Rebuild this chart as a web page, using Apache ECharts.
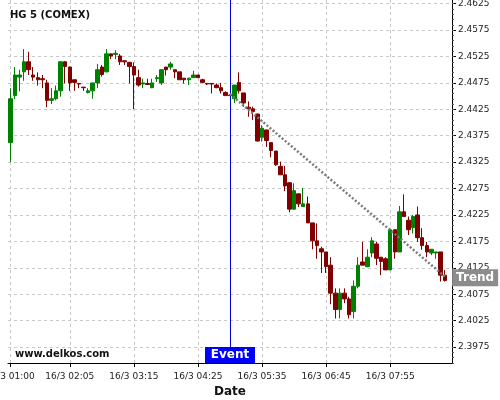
<!DOCTYPE html>
<html>
<head>
<meta charset="utf-8">
<script src="https://cdn.jsdelivr.net/npm/echarts@6/dist/echarts.min.js"></script>
<style>html,body{margin:0;padding:0;background:#fff}#c{width:500px;height:400px}</style>
</head>
<body>
<div id="c"></div>
<script>
const categories = [
'16/3 01:00','16/3 01:05','16/3 01:10','16/3 01:15','16/3 01:20','16/3 01:25','16/3 01:30','16/3 01:35','16/3 01:40','16/3 01:45','16/3 01:50','16/3 01:55',
'16/3 02:00','16/3 02:05','16/3 02:10','16/3 02:15','16/3 02:20','16/3 02:25','16/3 02:30','16/3 02:35','16/3 02:40','16/3 02:45','16/3 02:50','16/3 02:55',
'16/3 03:00','16/3 03:05','16/3 03:10','16/3 03:15','16/3 03:20','16/3 03:25','16/3 03:30','16/3 03:35','16/3 03:40','16/3 03:45','16/3 03:50','16/3 03:55',
'16/3 04:00','16/3 04:05','16/3 04:10','16/3 04:15','16/3 04:20','16/3 04:25','16/3 04:30','16/3 04:35','16/3 04:40','16/3 04:45','16/3 04:50','16/3 04:55',
'16/3 05:00','16/3 05:05','16/3 05:10','16/3 05:15','16/3 05:20','16/3 05:25','16/3 05:30','16/3 05:35','16/3 05:40','16/3 05:45','16/3 05:50','16/3 05:55',
'16/3 06:00','16/3 06:05','16/3 06:10','16/3 06:15','16/3 06:20','16/3 06:25','16/3 06:30','16/3 06:35','16/3 06:40','16/3 06:45','16/3 06:50','16/3 06:55',
'16/3 07:00','16/3 07:05','16/3 07:10','16/3 07:15','16/3 07:20','16/3 07:25','16/3 07:30','16/3 07:35','16/3 07:40','16/3 07:45','16/3 07:50','16/3 07:55',
'16/3 08:00','16/3 08:05','16/3 08:10','16/3 08:15','16/3 08:20','16/3 08:25','16/3 08:30','16/3 08:35','16/3 08:40','16/3 08:45','16/3 08:50','16/3 08:55',
'16/3 09:00'];

const opens = [2.4362,2.4451,2.4486,2.4496,2.4515,2.4490,2.4485,2.4483,2.4475,2.4442,2.4445,2.4460,2.4515,2.4505,2.4481,2.4474,2.4467,2.4457,2.4460,2.4475,
2.4505,2.4496,2.4530,2.4529,2.4526,2.4517,2.4514,2.4506,2.4485,2.4473,2.4474,2.4466,2.4483,2.4475,2.4505,2.4505,2.4500,2.4496,2.4484,2.4481,
2.4485,2.4490,2.4481,2.4474,2.4474,2.4471,2.4466,2.4457,2.4452,2.4445,2.4476,2.4456,2.4429,2.4426,2.4416,2.4372,2.4386,2.4362,2.4346,2.4317,
2.4301,2.4286,2.4236,2.4265,2.4241,2.4246,2.4210,2.4176,2.4161,2.4155,2.4130,2.4077,2.4046,2.4077,2.4066,2.4042,2.4090,2.4136,2.4127,2.4153,
2.4170,2.4145,2.4142,2.4121,2.4197,2.4155,2.4231,2.4215,2.4201,2.4225,2.4182,2.4167,2.4153,2.4153,2.4155,2.4111];
const closes = [2.4445,2.4490,2.4490,2.4515,2.4500,2.4486,2.4481,2.4481,2.4442,2.4445,2.4460,2.4515,2.4506,2.4475,2.4476,2.4473,2.4466,2.4460,2.4475,2.4500,
2.4491,2.4530,2.4526,2.4531,2.4515,2.4515,2.4506,2.4490,2.4471,2.4475,2.4472,2.4475,2.4485,2.4500,2.4500,2.4511,2.4496,2.4481,2.4481,2.4484,
2.4490,2.4485,2.4476,2.4473,2.4473,2.4466,2.4460,2.4451,2.4451,2.4471,2.4460,2.4437,2.4426,2.4421,2.4365,2.4389,2.4366,2.4347,2.4320,2.4301,
2.4280,2.4236,2.4271,2.4246,2.4246,2.4210,2.4176,2.4167,2.4155,2.4127,2.4077,2.4046,2.4077,2.4066,2.4036,2.4090,2.4130,2.4130,2.4145,2.4176,
2.4143,2.4137,2.4121,2.4197,2.4155,2.4231,2.4222,2.4197,2.4222,2.4182,2.4167,2.4155,2.4160,2.4155,2.4111,2.4101];
const lows = [2.4325,2.4444,2.4459,2.4479,2.4490,2.4479,2.4470,2.4465,2.4429,2.4435,2.4442,2.4449,2.4474,2.4460,2.4460,2.4465,2.4460,2.4455,2.4445,2.4465,
2.4487,2.4495,2.4520,2.4520,2.4509,2.4509,2.4474,2.4425,2.4468,2.4465,2.4471,2.4465,2.4477,2.4471,2.4489,2.4500,2.4484,2.4481,2.4474,2.4471,
2.4485,2.4485,2.4476,2.4471,2.4455,2.4465,2.4455,2.4451,2.4450,2.4437,2.4455,2.4430,2.4411,2.4405,2.4364,2.4364,2.4354,2.4334,2.4318,2.4301,
2.4270,2.4230,2.4235,2.4240,2.4241,2.4210,2.4160,2.4142,2.4115,2.4115,2.4056,2.4029,2.4029,2.4058,2.4029,2.4029,2.4086,2.4130,2.4126,2.4145,
2.4130,2.4111,2.4121,2.4121,2.4142,2.4155,2.4222,2.4187,2.4190,2.4174,2.4159,2.4145,2.4149,2.4142,2.4099,2.4099];
const highs = [2.4465,2.4505,2.4500,2.4539,2.4534,2.4505,2.4495,2.4490,2.4481,2.4465,2.4470,2.4516,2.4516,2.4506,2.4481,2.4474,2.4467,2.4465,2.4475,2.4511,
2.4509,2.4539,2.4530,2.4537,2.4530,2.4517,2.4514,2.4514,2.4500,2.4483,2.4483,2.4483,2.4490,2.4500,2.4505,2.4515,2.4500,2.4496,2.4484,2.4484,
2.4498,2.4490,2.4483,2.4474,2.4474,2.4474,2.4475,2.4459,2.4453,2.4471,2.4495,2.4456,2.4440,2.4430,2.4417,2.4395,2.4386,2.4362,2.4346,2.4326,
2.4318,2.4286,2.4285,2.4265,2.4276,2.4260,2.4210,2.4209,2.4165,2.4155,2.4145,2.4086,2.4086,2.4086,2.4070,2.4101,2.4145,2.4174,2.4160,2.4183,
2.4174,2.4145,2.4145,2.4200,2.4197,2.4242,2.4264,2.4222,2.4225,2.4241,2.4200,2.4174,2.4160,2.4155,2.4155,2.4121];

const tickLabels = ['16/3 01:00','16/3 02:05','16/3 03:15','16/3 04:25','16/3 05:35','16/3 06:45','16/3 07:55'];
const yTickLabels = [2.3975,2.4025,2.4075,2.4125,2.4175,2.4225,2.4275,2.4325,2.4375,2.4425,2.4475,2.4525,2.4575,2.4625];
const eventTime = '16/3 05:00';
const trendStart = ['16/3 05:00', 2.4454];
const trendEnd = ['16/3 08:55', 2.4108];

const yMin = 2.39447, yMax = 2.4632;
const minorTicks = [];
for (let i = 0; i < yTickLabels.length; i++) {
  for (let j = -4; j <= 0; j++) {
    const v = +(yTickLabels[i] + j * 0.001).toFixed(4);
    if (v >= yMin && v <= yMax) minorTicks.push(v);
  }
}
const candles = opens.map((o, i) => [o, closes[i], lows[i], highs[i]]);
const isLabel = (idx, val) => tickLabels.indexOf(val) >= 0;

const chart = echarts.init(document.getElementById('c'), null, {renderer: 'canvas'});
chart.setOption({
  animation: false,
  textStyle: {fontFamily: 'DejaVu Sans'},
  title: [
    {text: 'HG 5 (COMEX)', left: 10, top: 10, padding: 0, textStyle: {fontSize: 10, fontWeight: 'bold', color: '#111'}},
    {text: 'www.delkos.com', left: 15, top: 349, padding: 0, textStyle: {fontSize: 10, fontWeight: 'bold', color: '#111'}}
  ],
  grid: {left: 8, right: 48, top: 0, bottom: 37, containLabel: false, outerBoundsMode: 'none'},
  xAxis: {
    type: 'category', data: categories, boundaryGap: true,
    axisLine: {lineStyle: {color: '#000', width: 1}},
    axisTick: {show: true, interval: isLabel, alignWithLabel: true, length: 4, lineStyle: {color: '#000'}},
    axisLabel: {interval: isLabel, fontSize: 9, color: '#222', margin: 9, hideOverlap: false},
    splitLine: {show: true, interval: isLabel, alignWithLabel: true, lineStyle: {color: '#c8c8c8', type: [3, 3], width: 1}},
    name: 'Date', nameLocation: 'middle', nameGap: 21,
    nameTextStyle: {fontSize: 12, fontWeight: 'bold', color: '#111'}
  },
  yAxis: [{
    type: 'value', position: 'right', min: yMin, max: yMax, scale: true,
    axisLine: {show: true, onZero: false, lineStyle: {color: '#000', width: 1}},
    axisTick: {show: true, customValues: yTickLabels, length: 4, lineStyle: {color: '#000'}},
    axisLabel: {customValues: yTickLabels, fontSize: 9, color: '#222', margin: 6, formatter: v => v.toFixed(4)},
    splitLine: {show: true, lineStyle: {color: '#c8c8c8', type: [3, 3], width: 1}}
  }, {
    type: 'value', position: 'right', min: yMin, max: yMax, scale: true,
    axisLine: {show: false},
    axisTick: {show: true, customValues: minorTicks, length: 2, lineStyle: {color: '#555'}},
    axisLabel: {show: false},
    splitLine: {show: false}
  }],
  series: [{
    type: 'candlestick',
    yAxisIndex: 0,
    data: candles,
    barWidth: 4,
    itemStyle: {color: '#008000', color0: '#800000', borderColor: '#008000', borderColor0: '#800000', borderWidth: 1},
    markLine: {
      silent: true, symbol: ['none', 'none'], label: {show: false}, animation: false,
      data: [
        {xAxis: eventTime, lineStyle: {color: '#0000dd', width: 1, type: 'solid'}},
        [{coord: trendStart, lineStyle: {color: '#7a7a7a', width: 2.5, type: [2, 2]}}, {coord: trendEnd}]
      ]
    },
    markPoint: {
      silent: true, animation: false,
      data: [
        {coord: [eventTime, yMin], symbol: 'rect', symbolSize: [50, 16], symbolOffset: [0, -8],
         itemStyle: {color: '#0000ff'},
         label: {show: true, position: 'inside', formatter: 'Event', color: '#fff', fontWeight: 'bold', fontSize: 12}},
        {coord: trendEnd, symbol: 'rect', symbolSize: [46, 17], symbolOffset: [30, 1],
         itemStyle: {color: '#8c8c8c'},
         label: {show: true, position: 'inside', formatter: 'Trend', color: '#fff', fontWeight: 'bold', fontSize: 12}}
      ]
    }
  }]
});
</script>
</body>
</html>
